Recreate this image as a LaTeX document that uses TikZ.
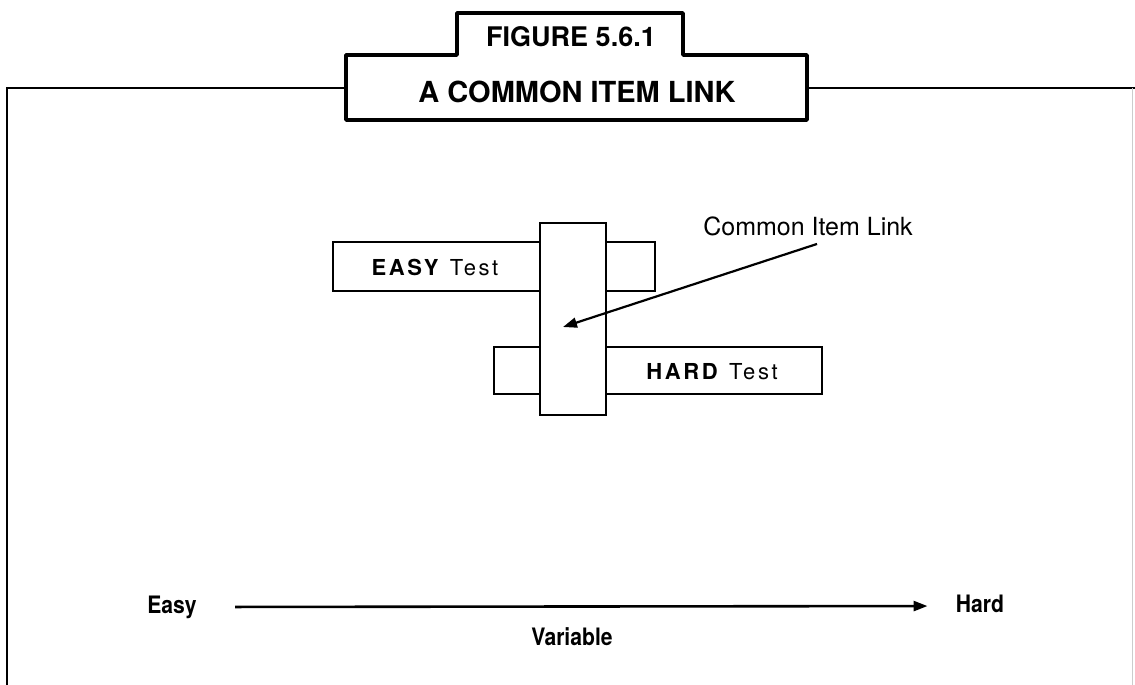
\documentclass[tikz,border=0pt]{standalone}
\usepackage{fontspec}
\setmainfont{TeX Gyre Heros}
\newfontfamily\condfont[FakeStretch=0.88]{TeX Gyre Heros}
\usetikzlibrary{positioning,calc,arrows.meta}

\begin{document}
\begin{tikzpicture}[
    x=0.5pt, y=-0.5pt,
    testbox/.style={rectangle, draw, line width=1.4pt, fill=white, inner sep=0pt, outer sep=0pt},
    linkbox/.style={rectangle, draw, line width=1.4pt, fill=white, inner sep=0pt, outer sep=0pt, minimum width=33pt, minimum height=96pt},
    boxlabel/.style={inner sep=0pt, font=\fontsize{11}{13}\selectfont\addfontfeatures{LetterSpace=12}},
    axislabel/.style={inner sep=0pt, text height=9pt, text depth=2.5pt, font=\fontsize{12}{14}\selectfont\condfont\bfseries},
    arrow/.style={-{Triangle[length=7pt,width=5pt]}, line width=1.3pt}
]
    \useasboundingbox (0,0) rectangle (1135,685);

    % frame and title
    \draw[line width=1pt] (7,685) -- (7,88) -- (346,88);
    \draw[line width=1pt] (807,88) -- (1135,88);
    \draw[line width=0.5pt, gray!40] (1132,88) -- (1132,685);
    \draw[line width=1.8pt, line join=round] (346,120) -- (346,55) -- (457,55) -- (457,13) -- (683,13)
        -- (683,55) -- (807,55) -- (807,120) -- cycle;
    \node[inner sep=0pt, font=\fontsize{13.5}{16}\selectfont\bfseries] (fignum) at (571,37) {FIGURE 5.6.1};
    \node[inner sep=0pt, font=\fontsize{14.5}{17}\selectfont\bfseries] (figtitle) at (577,92) {A COMMON ITEM LINK};

    % the two tests and the link
    \node[testbox, minimum width=161pt, minimum height=24.5pt] (easybox) at (494,266.5) {};
    \node[testbox, minimum width=164pt, minimum height=23.5pt] (hardbox) at (658,370.5) {};
    \node[linkbox] (link) at (573,319) {};
    \node[boxlabel] (easylbl) at (435,268) {\textbf{EASY} Test};
    \node[boxlabel] (hardlbl) at (712,372) {\textbf{HARD} Test};

    \node[inner sep=0pt, font=\fontsize{12.5}{15}\selectfont] (cil) at (808,226) {Common Item Link};
    \coordinate (linkpt) at (563,327);
    \draw[arrow, line width=1.1pt] ([xshift=4.5pt, yshift=-4pt]cil.south) -- (linkpt);

    % variable axis
    \node[axislabel] (easy) at (172,607) {Easy};
    \node[axislabel] (hard) at (980,606) {Hard};
    \node[axislabel] (var) at (572,639) {Variable};
    \draw[arrow, shorten <=19pt, shorten >=14pt] (easy.east) -- (hard.west);
\end{tikzpicture}
\end{document}
